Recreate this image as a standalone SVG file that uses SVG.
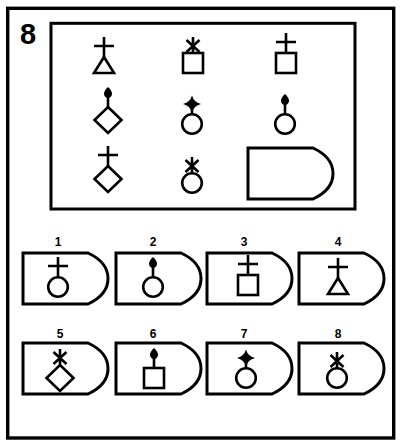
<svg xmlns="http://www.w3.org/2000/svg" xmlns:xlink="http://www.w3.org/1999/xlink" width="400" height="446" viewBox="0 0 400 446">
<style>
.frame{fill:none;stroke:#000;stroke-width:3.4}
.opt{fill:#fff;stroke:#000;stroke-width:3;stroke-linejoin:miter}
.sym{fill:none;stroke:#000;stroke-width:2.6;stroke-linecap:butt;stroke-linejoin:miter}
.fill{fill:#000;stroke:none}
.num{font-family:"Liberation Sans",Arial,sans-serif;font-weight:bold;font-size:12px;text-anchor:middle;fill:#000}
.big{font-family:"Liberation Sans",Arial,sans-serif;font-weight:bold;font-size:29px;text-anchor:middle;fill:#000}
</style>
<defs>
<path id="card" d="M0,0 H65 C78,6 85,15 85,25.5 C85,36 78,45 65,51 H0 Z"/>
<g id="circ"><circle class="sym" cx="0" cy="10" r="9.8"/></g>
<g id="sq"><rect class="sym" x="-10" y="0" width="20" height="20"/></g>
<g id="tri"><path class="sym" d="M0,0 L10,16 L-10,16 Z"/></g>
<g id="dia"><path class="sym" d="M0,0 L13.5,13 L0,26 L-13.5,13 Z"/></g>
<g id="cross"><path class="sym" d="M0,0 V-20 M-10,-11 H10"/></g>
<g id="ast"><path class="sym" d="M0,0 V-16 M-6.5,-13 L6.5,-1 M6.5,-13 L-6.5,-1"/></g>
<g id="star"><path class="sym" d="M0,0 V-6"/><path class="fill" d="M0,-18.5 Q1.8,-11.8 9,-10 Q1.8,-8.2 0,-1.5 Q-1.8,-8.2 -9,-10 Q-1.8,-11.8 0,-18.5 Z"/></g>
<g id="dot"><path class="sym" d="M0,0 V-11"/><path class="fill" d="M0,-20 C3.8,-16.5 4,-14 4,-13.2 C4,-10.8 2.2,-9 0,-9 C-2.2,-9 -4,-10.8 -4,-13.2 C-4,-14 -3.8,-16.5 0,-20 Z"/></g>
</defs>
<rect class="frame" x="7.7" y="8.3" width="386" height="429.7"/>
<text class="big" x="28" y="44">8</text>
<g id="matrix">
<rect class="frame" x="51" y="23.3" width="304" height="185.7" style="stroke-width:3"/>
<g id="m11"><use xlink:href="#cross" x="104" y="57"/><use xlink:href="#tri" x="104" y="57"/></g>
<g id="m12"><use xlink:href="#ast" x="193" y="53"/><use xlink:href="#sq" x="193" y="53"/></g>
<g id="m13"><use xlink:href="#cross" x="286" y="53"/><use xlink:href="#sq" x="286" y="53"/></g>
<g id="m21"><use xlink:href="#dot" x="108" y="107"/><use xlink:href="#dia" x="108" y="107"/></g>
<g id="m22"><use xlink:href="#star" x="192" y="114"/><use xlink:href="#circ" x="192" y="114"/></g>
<g id="m23"><use xlink:href="#dot" x="285" y="114"/><use xlink:href="#circ" x="285" y="114"/></g>
<g id="m31"><use xlink:href="#cross" x="108" y="166"/><use xlink:href="#dia" x="108" y="166"/></g>
<g id="m32"><use xlink:href="#ast" x="192" y="173"/><use xlink:href="#circ" x="192" y="173"/></g>
<g id="m33"><use xlink:href="#card" class="opt" x="248" y="148"/></g>
</g>
<g id="opt1"><text class="num" x="58" y="246">1</text><use xlink:href="#card" class="opt" x="23" y="253"/><use xlink:href="#cross" x="58" y="277"/><use xlink:href="#circ" x="58" y="277"/></g>
<g id="opt2"><text class="num" x="153" y="246">2</text><use xlink:href="#card" class="opt" x="116" y="253"/><use xlink:href="#dot" x="153" y="277"/><use xlink:href="#circ" x="153" y="277"/></g>
<g id="opt3"><text class="num" x="244" y="246">3</text><use xlink:href="#card" class="opt" x="207" y="253"/><use xlink:href="#cross" x="248" y="275"/><use xlink:href="#sq" x="248" y="275"/></g>
<g id="opt4"><text class="num" x="338" y="246">4</text><use xlink:href="#card" class="opt" x="299" y="253"/><use xlink:href="#cross" x="338" y="278"/><use xlink:href="#tri" x="338" y="278"/></g>
<g id="opt5"><text class="num" x="60" y="338">5</text><use xlink:href="#card" class="opt" x="23" y="343"/><use xlink:href="#ast" x="60" y="365"/><use xlink:href="#dia" x="60" y="365"/></g>
<g id="opt6"><text class="num" x="153" y="338">6</text><use xlink:href="#card" class="opt" x="116" y="343"/><use xlink:href="#dot" x="154" y="368"/><use xlink:href="#sq" x="154" y="368"/></g>
<g id="opt7"><text class="num" x="244" y="338">7</text><use xlink:href="#card" class="opt" x="207" y="343"/><use xlink:href="#star" x="246" y="368"/><use xlink:href="#circ" x="246" y="368"/></g>
<g id="opt8"><text class="num" x="338" y="338">8</text><use xlink:href="#card" class="opt" x="299" y="343"/><use xlink:href="#ast" x="337" y="368"/><use xlink:href="#circ" x="337" y="368"/></g>
</svg>
